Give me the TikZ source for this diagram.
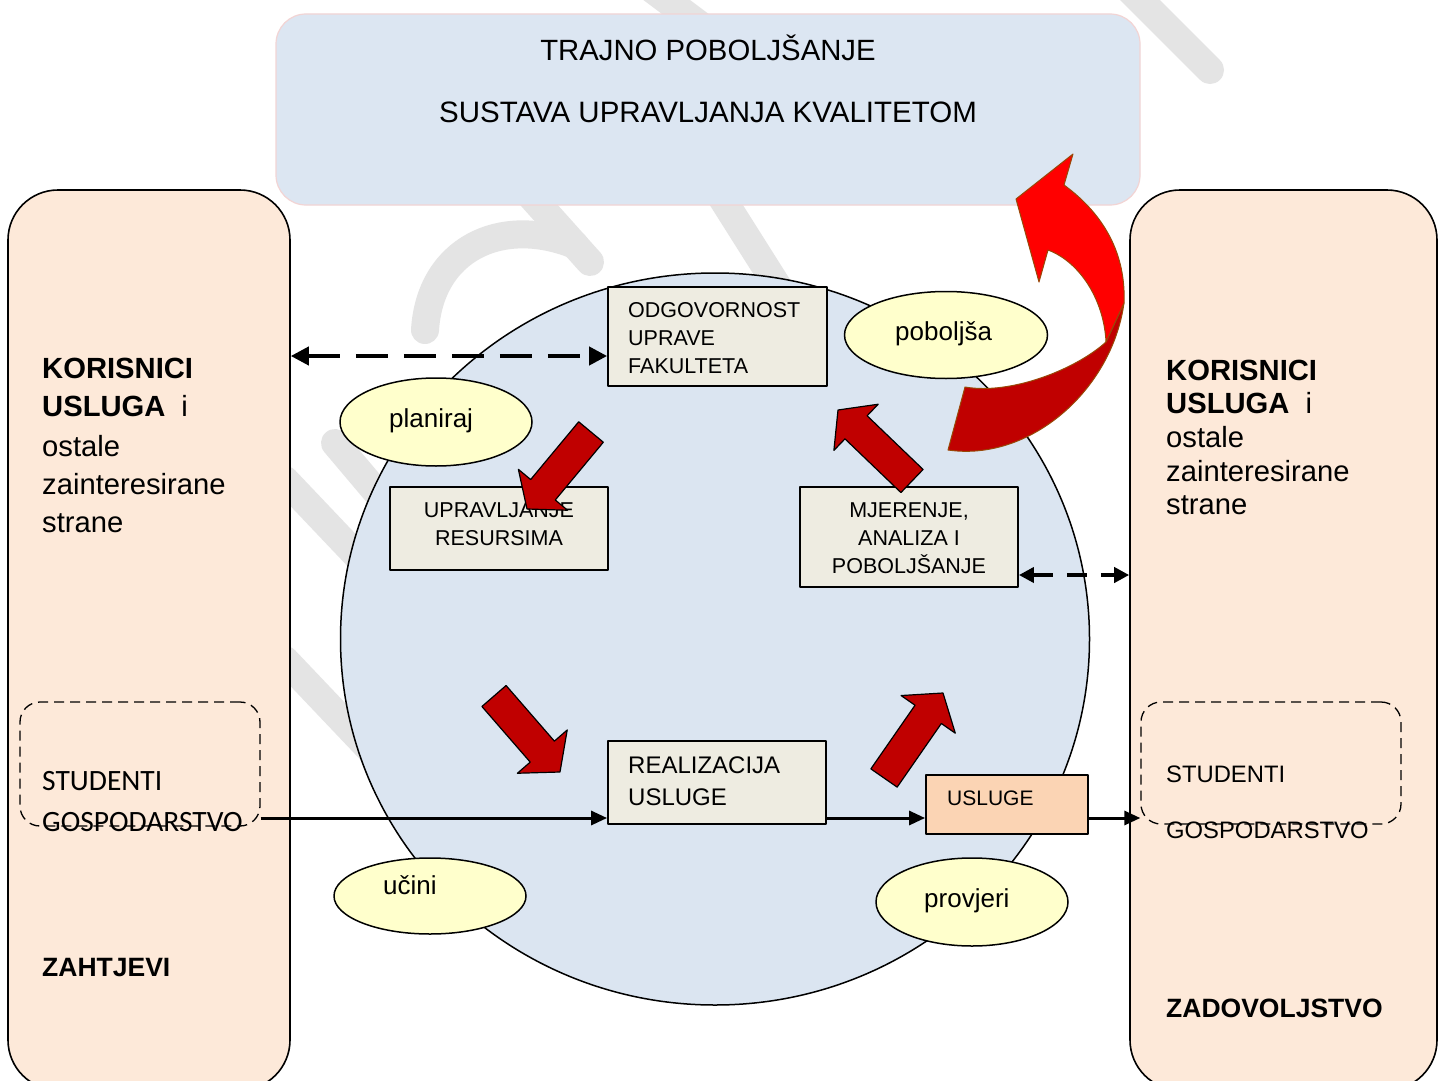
\documentclass[tikz,border=0pt]{standalone}
\usepackage{fontspec}
\setmainfont{Liberation Sans}
\newfontfamily\calib{Carlito}
\usetikzlibrary{shapes.geometric,arrows.meta,calc}
\definecolor{topfill}{HTML}{DCE6F2}
\definecolor{topline}{HTML}{F2D4D4}
\definecolor{sidefill}{HTML}{FDE9D9}
\definecolor{circfill}{HTML}{DBE5F1}
\definecolor{boxfill}{HTML}{EEECE1}
\definecolor{ellfill}{HTML}{FFFFCC}
\definecolor{uslfill}{HTML}{FBD4B4}
\definecolor{darkred}{HTML}{C00000}
\definecolor{brightred}{HTML}{FF0000}
\definecolor{ribbonline}{HTML}{984807}
\definecolor{wmgray}{HTML}{E4E4E4}
\newcommand\myfs[1]{\fontsize{#1}{#1}\selectfont}
\newcommand\putt[4]{\node[anchor=#3,inner sep=0pt] (#1) at (#2) {#4};}
\newcommand\blockarr[5]{%
 \coordinate (BT) at (#1); \coordinate (BH) at (#2);
 \coordinate (BN) at ($(BH)!#5!(BT)$);
 \draw[redblock] ($(BT)!#3!90:(BH)$) -- ($(BN)!#3!90:(BH)$) -- ($(BN)!#4!90:(BH)$) -- (BH) -- ($(BN)!#4!-90:(BH)$) -- ($(BN)!#3!-90:(BH)$) -- ($(BT)!#3!-90:(BH)$) -- cycle;}
\begin{document}
\begin{tikzpicture}[x=1pt,y=-1pt,line join=round,
 sidebox/.style={draw, line width=1.6pt, fill=sidefill, rounded corners=50pt, inner sep=0pt},
 dashbox/.style={draw, dash pattern=on 10pt off 6pt, line width=1.3pt, rounded corners=20pt, inner sep=0pt},
 procbox/.style={draw, line width=1.8pt, fill=boxfill, inner sep=0pt},
 oval/.style={ellipse, draw, line width=1.5pt, fill=ellfill, inner sep=0pt},
 redblock/.style={fill=darkred, draw=black, line width=1.2pt},
 dasharr/.style={line width=4pt, dash pattern=on 32pt off 16pt, {Triangle[length=18pt,width=18pt]}-{Triangle[length=18pt,width=18pt]}},
 dasharrb/.style={line width=4pt, dash pattern=on 20pt off 14pt, {Triangle[length=15pt,width=15pt]}-{Triangle[length=15pt,width=15pt]}},
 flowarr/.style={line width=3pt, -{Triangle[length=16pt,width=14pt]}},
 wm/.style={draw=wmgray, line width=28pt, line cap=round}]
\useasboundingbox (0,0) rectangle (1445,1081);
\fill[white] (0,0) rectangle (1445,1081);
% watermark
\draw[wm] (1125,-15) -- (1210,70);
\draw[wm] (640,-20) -- (700,25);
\draw[wm] (425,330) .. controls (430,250) and (500,215) .. (575,245);
\draw[wm] (530,195) -- (590,262);
\draw[wm] (720,195) -- (780,290);
\draw[wm] (335,443) -- (400,520);
\draw[wm] (285,480) -- (380,580);
\draw[wm] (285,660) -- (380,760);
% top box
\node[draw=topline, line width=1.2pt, fill=topfill, rounded corners=30pt, minimum width=864pt, minimum height=191pt, inner sep=0pt] (top) at (708,109.5) {};
\putt{t1}{708,61}{base}{\myfs{29.3}TRAJNO POBOLJŠANJE}
\putt{t2}{708,122}{base}{\myfs{29.5}SUSTAVA UPRAVLJANJA KVALITETOM}
% side boxes
\node[sidebox, minimum width=282pt, minimum height=900pt] (lside) at (149,640) {};
\node[sidebox, minimum width=307pt, minimum height=900pt] (rside) at (1283.5,640) {};
\putt{l1}{42,378}{base west}{\myfs{29.2}\bfseries KORISNICI}
\putt{l2}{42,416}{base west}{\myfs{29.2}\textbf{USLUGA}\hspace{16pt}i}
\putt{l3}{42,456}{base west}{\myfs{29.2}ostale}
\putt{l4}{42,494}{base west}{\myfs{29.2}zainteresirane}
\putt{l5}{42,532}{base west}{\myfs{29.2}strane}
\putt{r1}{1166,380}{base west}{\myfs{29.2}\bfseries KORISNICI}
\putt{r2}{1166,413}{base west}{\myfs{29.2}\textbf{USLUGA}\hspace{16pt}i}
\putt{r3}{1166,447}{base west}{\myfs{29.2}ostale}
\putt{r4}{1166,481}{base west}{\myfs{29.2}zainteresirane}
\putt{r5}{1166,514}{base west}{\myfs{29.2}strane}
\putt{lz}{42,976}{base west}{\myfs{26.5}\bfseries ZAHTJEVI}
\putt{rz}{1166,1017}{base west}{\myfs{26.5}\bfseries ZADOVOLJSTVO}
% circle
\node[ellipse, draw, line width=1.5pt, fill=circfill, minimum width=749pt, minimum height=732pt, inner sep=0pt] (circ) at (715,639) {};
% dashed boxes
\node[dashbox, minimum width=240pt, minimum height=124pt] (ldash) at (140,764) {};
\node[dashbox, minimum width=260pt, minimum height=122pt] (rdash) at (1271,763) {};
\putt{ls}{42,790}{base west}{\calib\myfs{29.5}STUDENTI}
\putt{lg}{42,831}{base west}{\calib\myfs{29.5}GOSPODARSTVO}
\putt{rs}{1166,782}{base west}{\myfs{23.8}STUDENTI}
\putt{rg}{1166,838}{base west}{\myfs{23.8}GOSPODARSTVO}
% ovals
\node[oval, minimum width=192pt, minimum height=88pt] (ePlan) at (436,422) {};
\node[oval, minimum width=203pt, minimum height=87pt] (ePob) at (946,335) {};
\node[oval, minimum width=192pt, minimum height=76pt] (eUc) at (430,896) {};
\node[oval, minimum width=192pt, minimum height=88pt] (eProv) at (972,902) {};
\putt{tPlan}{389,427}{base west}{\myfs{26}planiraj}
\putt{tPob}{895,340}{base west}{\myfs{26}poboljša}
\putt{tUc}{383,894}{base west}{\myfs{26}učini}
\putt{tProv}{924,907}{base west}{\myfs{26}provjeri}
% red block arrows (under boxes)
\blockarr{494,696}{560,772}{16pt}{33pt}{27pt}
\blockarr{884,778}{943,693}{16pt}{33pt}{26pt}
% process boxes
\node[procbox, minimum width=219pt, minimum height=99pt] (odg) at (717.5,336.5) {};
\node[procbox, minimum width=218pt, minimum height=83pt] (upr) at (499,528.5) {};
\node[procbox, minimum width=218pt, minimum height=100pt] (mjer) at (909,537) {};
\node[procbox, minimum width=218pt, minimum height=83pt] (real) at (717,782.5) {};
\node[procbox, fill=uslfill, minimum width=162pt, minimum height=59pt] (usl) at (1007,804.5) {};
\putt{o1}{628,317}{base west}{\myfs{21.5}ODGOVORNOST}
\putt{o2}{628,345}{base west}{\myfs{21.5}UPRAVE}
\putt{o3}{628,373}{base west}{\myfs{21.5}FAKULTETA}
\putt{u1}{499,517}{base}{\myfs{21.5}UPRAVLJANJE}
\putt{u2}{499,545}{base}{\myfs{21.5}RESURSIMA}
\putt{m1}{909,517}{base}{\myfs{21.5}MJERENJE,}
\putt{m2}{909,545}{base}{\myfs{21.5}ANALIZA I}
\putt{m3}{909,573}{base}{\myfs{21.5}POBOLJŠANJE}
\putt{re1}{628,773}{base west}{\myfs{24}REALIZACIJA}
\putt{re2}{628,805}{base west}{\myfs{24}USLUGE}
\putt{us1}{947,805}{base west}{\myfs{21}USLUGE}
% red block arrows (over boxes)
\blockarr{591,432}{527,509}{16pt}{32pt}{25pt}
\blockarr{912,481}{838,410}{16pt}{32pt}{25pt}
% connectors
\coordinate (a1) at ([yshift=-19.5pt]odg.west);
\draw[dasharr] (lside.east |- a1) -- (a1);
\coordinate (a2) at ([yshift=-38pt]mjer.east);
\draw[dasharrb] (a2) -- (rside.west |- a2);
\coordinate (a3) at ([yshift=-35.5pt]real.west);
\draw[flowarr] (ldash.east |- a3) -- (a3);
\draw[flowarr] (real.east |- a3) -- (usl.west |- a3);
\draw[flowarr] (usl.east |- a3) -- (rdash.west |- a3);
% curved ribbon arrow
\draw[fill=darkred, draw=ribbonline, line width=1pt] (1106,342) -- (1124,303) .. controls (1112,390) and (1030,462) .. (948,450) -- (965,387) .. controls (1010,395) and (1075,370) .. (1106,342) -- cycle;
\draw[fill=brightred, draw=ribbonline, line width=1pt] (1106,342) .. controls (1104,300) and (1080,262) .. (1048,250) -- (1039,282) -- (1016,199) -- (1073,154) -- (1064,185) .. controls (1105,215) and (1126,255) .. (1124,303) -- cycle;
\end{tikzpicture}
\end{document}
